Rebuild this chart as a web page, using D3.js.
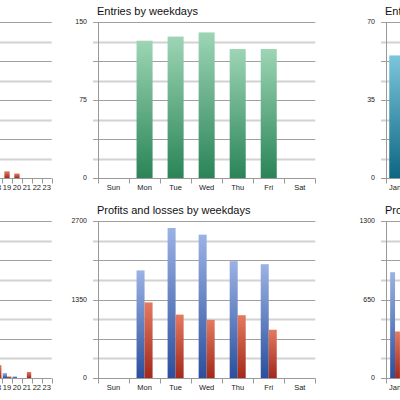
<!DOCTYPE html>
<html><head><meta charset="utf-8">
<script src="https://cdn.jsdelivr.net/npm/d3@7"></script>
<style>body{margin:0;background:#fff}svg{display:block}text{font-family:"Liberation Sans",Arial,sans-serif}</style>
</head><body><svg id="c" width="400" height="400"></svg>
<script>
// ---- data ----
const hours = d3.range(24).map(String);
const weekdays = ["Sun","Mon","Tue","Wed","Thu","Fri","Sat"];
const months = ["Jan","Feb","Mar","Apr","May","Jun","Jul","Aug","Sep","Oct","Nov","Dec"];

const entriesByHour = [0,0,0,0,0,0,0,0,0,0,0,0,0,0,0,0,0,0,0,3,2,0,0,0];
const profitsByHour = [0,0,0,0,0,0,0,0,0,0,0,0,0,0,0,0,0,0,0,41,13,0,0,0];
const lossesByHour  = [0,0,0,0,0,0,0,0,0,0,0,0,0,0,0,0,0,0,107,13,0,50,0,0];

const entriesByWeekday = [0,132,136,140,124,124,0];
const profitsByWeekday = [0,1850,2580,2465,2010,1957,0];
const lossesByWeekday  = [0,1300,1090,1000,1080,830,0];

const entriesByMonth = [55,0,0,0,0,0,0,0,0,0,0,0];
const profitsByMonth = [876,0,0,0,0,0,0,0,0,0,0,0];
const lossesByMonth  = [385,0,0,0,0,0,0,0,0,0,0,0];

const ticksEntriesHour = [0,35,70];
const ticksProfitHour = [0,650,1300];
const ticksEntriesWeekday = [0,75,150];
const ticksProfitWeekday = [0,1350,2700];
const ticksEntriesMonth = [0,35,70];
const ticksProfitMonth = [0,650,1300];

// ---- drawing ----
const W = 400;
const svg = d3.select("#c");
const defs = svg.append("defs");
function grad(id, top, bottom){
  const g = defs.append("linearGradient").attr("id",id).attr("x1",0).attr("y1",0).attr("x2",0).attr("y2",1);
  g.append("stop").attr("offset","0%").attr("stop-color",top);
  g.append("stop").attr("offset","100%").attr("stop-color",bottom);
}
grad("gGreen","#9dd5b5","#2a8457");
grad("gBlue","#9bb2e4","#2b4f9e");
grad("gRed","#e47a60","#a3291b");
grad("gTeal","#7cc6dc","#0d6682");

const visible = (x)=> x > -12 && x < W + 12;

function chart(o){
  const g = svg.append("g");
  const x = d3.scaleBand().domain(o.cats).range([o.x0, o.x1]);
  const ymax = o.ticks[o.ticks.length-1];
  const y = d3.scaleLinear().domain([0, ymax]).range([o.yb, o.yt]);
  // gridlines (8 divisions)
  d3.range(1,9).forEach(i=>{
    const yy = Math.round(y(ymax*i/8))+0.5;
    const major = i%2===0;
    g.append("line").attr("x1",o.x0-5).attr("x2",o.x1).attr("y1",yy).attr("y2",yy)
      .attr("stroke", major?"#a0a0a0":"#d2d2d2").attr("stroke-width", major?1:2);
  });
  // bars
  const n = o.series.length;
  const groupW = x.bandwidth()*o.ratio;
  const bw = groupW/n;
  o.series.forEach((s,si)=>{
    g.selectAll(null).data(s.values.map((v,i)=>({v,c:o.cats[i]})).filter(d=>d.v>0))
      .enter().append("rect")
      .attr("x",d=>x(d.c) + (x.bandwidth()-groupW)/2 + si*bw)
      .attr("width",bw)
      .attr("y",d=>y(d.v)).attr("height",d=>y(0)-y(d.v))
      .attr("fill","url(#"+s.fill+")");
  });
  // axes lines
  const yb = Math.round(y(0))+0.5;
  g.append("line").attr("x1",o.x0-5).attr("x2",o.x1).attr("y1",yb).attr("y2",yb).attr("stroke","#999");
  const ax = Math.round(o.x0)+0.5;
  g.append("line").attr("x1",ax).attr("x2",ax).attr("y1",y(ymax)).attr("y2",yb+5).attr("stroke","#999");
  o.cats.forEach(c=>{
    const tx = Math.round(x(c)+x.bandwidth())+0.5;
    g.append("line").attr("x1",tx).attr("x2",tx).attr("y1",yb).attr("y2",yb+5).attr("stroke","#999");
    const cx = x(c)+x.bandwidth()/2;
    if(visible(cx))
      g.append("text").attr("x",cx).attr("y",yb+11.5).attr("text-anchor","middle")
        .attr("font-size",7.5).attr("fill","#222").text(c);
  });
  if(visible(o.x0-11)) o.ticks.forEach(t=>{
    g.append("text").attr("x",o.x0-11).attr("y",y(t)).attr("dy","0.35em").attr("text-anchor","end")
      .attr("font-size",7).attr("fill","#222").text(t);
  });
  if(visible(o.x0))
    g.append("text").attr("x",o.x0-1).attr("y",o.yt-7).attr("font-size",11).attr("fill","#111").text(o.title);
}

const colL = [-186.6, 51.7], colM = [98, 315.3], colR = [386, 603];
const rowT = [22, 178], rowB = [221, 378];

chart({x0:colL[0],x1:colL[1],yt:rowT[0],yb:rowT[1],cats:hours,title:"Entries by hours",ticks:ticksEntriesHour,ratio:0.53,
  series:[{values:entriesByHour,fill:"gRed"}]});
chart({x0:colL[0],x1:colL[1],yt:rowB[0],yb:rowB[1],cats:hours,title:"Profits and losses by hours",ticks:ticksProfitHour,ratio:0.87,
  series:[{values:profitsByHour,fill:"gBlue"},{values:lossesByHour,fill:"gRed"}]});
chart({x0:colM[0],x1:colM[1],yt:rowT[0],yb:rowT[1],cats:weekdays,title:"Entries by weekdays",ticks:ticksEntriesWeekday,ratio:0.516,
  series:[{values:entriesByWeekday,fill:"gGreen"}]});
chart({x0:colM[0],x1:colM[1],yt:rowB[0],yb:rowB[1],cats:weekdays,title:"Profits and losses by weekdays",ticks:ticksProfitWeekday,ratio:0.516,
  series:[{values:profitsByWeekday,fill:"gBlue"},{values:lossesByWeekday,fill:"gRed"}]});
chart({x0:colR[0],x1:colR[1],yt:rowT[0],yb:rowT[1],cats:months,title:"Entries by months",ticks:ticksEntriesMonth,ratio:0.64,
  series:[{values:entriesByMonth,fill:"gTeal"}]});
chart({x0:colR[0],x1:colR[1],yt:rowB[0],yb:rowB[1],cats:months,title:"Profits and losses by months",ticks:ticksProfitMonth,ratio:0.54,
  series:[{values:profitsByMonth,fill:"gBlue"},{values:lossesByMonth,fill:"gRed"}]});
</script></body></html>
